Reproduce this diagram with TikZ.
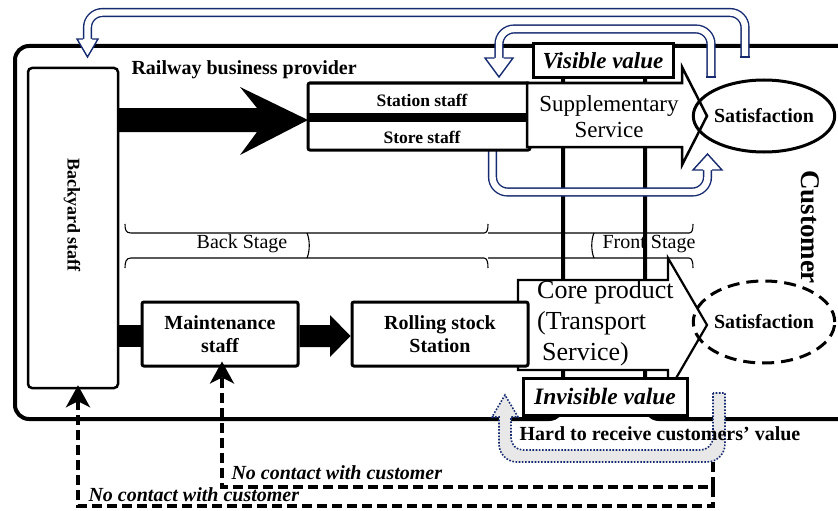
\documentclass[tikz,border=0pt]{standalone}
\usepackage{fontspec}
\setmainfont{Liberation Serif}
\usetikzlibrary{arrows.meta,shapes.geometric}
\definecolor{tubeblue}{RGB}{22,42,112}
\newcommand{\fs}[1]{\fontsize{#1}{#1}\selectfont}
\begin{document}
\begin{tikzpicture}[x=1pt,y=-1pt,
  box/.style={draw, line width=3pt, fill=white, rounded corners=2pt, font=\bfseries\fs{20}, align=center, inner sep=0pt},
  tube/.style={draw=tubeblue, line width=1.4pt, double=white, double distance=6.4pt, rounded corners=15pt},
  tubehead/.style={draw=tubeblue, line width=1.4pt, fill=white, line join=miter},
  tubecap/.style={draw=tubeblue, line width=1.4pt},
  dasharrow/.style={line width=3.4pt, dash pattern=on 10pt off 5pt, -{Stealth[length=22pt,width=24pt,inset=6pt]}},
  brace/.style={line width=1.1pt},
  outer/.style={line width=4pt, rounded corners=14pt},
  solidblack/.style={fill=black, draw=none},
]
\useasboundingbox (0,0) rectangle (838,511);

% braces and stage labels
\draw[brace] (125,224) .. controls (125,230) and (126,233) .. (131,233) -- (484,233) .. controls (487,233) and (488,230) .. (488,224);
\draw[brace] (488,233) -- (689,233) .. controls (692,233) and (693,230) .. (693,224);
\draw[brace] (125,268) .. controls (125,262) and (126,258) .. (131,258) -- (484,258) .. controls (487,258) and (488,262) .. (488,268);
\draw[brace] (488,258) -- (689,258) .. controls (692,258) and (693,262) .. (693,268);
\draw[brace] (307,233) .. controls (310,240) and (310,251) .. (307,258);
\draw[brace] (594,233) .. controls (591,240) and (591,251) .. (594,258);
\node[font=\fs{20}] (backstage) at (242,244) {Back Stage};
\node[font=\fs{20}] (frontstage) at (649,244) {Front Stage};

% outer frames
\draw[outer] (563,46) -- (15,46) -- (15,419) -- (563,419) -- cycle;
\draw[outer] (860,46) -- (645,46) -- (645,419) -- (860,419);

% blue tubes
\coordinate (t1s) at (745,57);
\coordinate (t1e) at (87.5,39);
\draw[tube] (t1s) -- (745,12.5) -- (87.5,12.5) -- (t1e);
\draw[tubecap] (740.3,57) -- (749.7,57);
\draw[tubehead] (83,39) -- (77,39) -- (87.5,57) -- (98,39) -- (92,39);

\coordinate (t2s) at (711,77);
\coordinate (t2e) at (499,58);
\draw[tube] (t2s) -- (711,29) -- (499,29) -- (t2e);
\draw[tubecap] (706.3,77) -- (715.7,77);
\draw[tubehead] (494.5,58) -- (485,58) -- (499,77) -- (513,58) -- (503.5,58);

\coordinate (t3s) at (492.5,148);
\coordinate (t3e) at (707.5,170);
\draw[tube] (t3s) -- (492.5,192) -- (707.5,192) -- (t3e);
\draw[tubehead] (703,170) -- (693,170) -- (707.5,154) -- (722,170) -- (712,170);

% big black arrow
\node[draw, line width=2.5pt, rounded corners=4pt, minimum width=90pt, minimum height=320pt, inner sep=0pt] (backyard) at (73,228) {};
\fill[solidblack] (118,108) -- (257,108) -- (240,87) -- (308,120) -- (240,155) -- (257,132) -- (118,132) -- cycle;

% station / store
\node[box, minimum width=222pt, minimum height=67pt] (ss) at (419,116.5) {};
\draw[line width=9pt] (ss.west |- 0,117.5) -- (530,117.5);
\node[font=\bfseries\fs{17.5}] (station) at (422,100) {Station staff};
\node[font=\bfseries\fs{17.5}] (store) at (422,137) {Store staff};

% supplementary arrow
\draw[line width=2.5pt, fill=white, line join=miter] (527,83) -- (682,83) -- (682,67) -- (707,116) -- (682,165) -- (682,147) -- (527,147) -- cycle;
\node[font=\fontsize{23}{26}\selectfont, align=center] (supp) at (609,117) {Supplementary\\Service};
\node[box, rounded corners=0pt, minimum width=140pt, minimum height=34pt, font=\bfseries\itshape\fs{23}] (visible) at (603,61) {Visible value};
\node[ellipse, draw, line width=3pt, minimum width=134pt, minimum height=72pt, inner sep=0pt, font=\bfseries\fs{20}] (sat1) at (764,116) {Satisfaction};

% core product arrow
\draw[line width=2.2pt, fill=white, line join=miter] (518,280) -- (668,280) -- (668,258) -- (707,325) -- (668,392) -- (668,370) -- (518,370) -- cycle;
\node[font=\fontsize{26}{31}\selectfont, align=left, anchor=west, inner sep=0pt] (core) at (537,323) {Core product\\(Transport\\\hspace*{5pt}Service)};
\node[ellipse, draw, line width=3pt, dash pattern=on 12pt off 7pt, minimum width=124pt, minimum height=82pt, inner sep=0pt, font=\bfseries\fs{20}] (sat2) at (764,322) {Satisfaction};

% lower chain
\node[box, minimum width=156pt, minimum height=64pt] (maint) at (220,334) {Maintenance\\[3pt]staff};
\node[box, minimum width=176pt, minimum height=64pt] (rolling) at (440,334) {Rolling stock\\[3pt]Station};
\fill[solidblack] (backyard.east |- 0,325) rectangle (maint.west |- 0,347);
\fill[solidblack] (maint.east |- 0,325) -- (330,325) -- (330,315) -- (rolling.west |- 0,336) -- (330,357) -- (330,347) -- (maint.east |- 0,347) -- cycle;

\node[box, rounded corners=0pt, minimum width=164pt, minimum height=37pt, font=\bfseries\itshape\fs{23.5}] (invisible) at (605,396.5) {Invisible value};

% dotted tube
\draw[draw=tubeblue, line width=1.6pt, dash pattern=on 1.6pt off 1.6pt, fill=gray!18, line join=miter]
 (713,393) -- (713,438) .. controls (713,444.6) and (706.4,450) .. (701,450) -- (523,450) .. controls (516.4,450) and (511,444.6) .. (511,438) -- (511,417) -- (518,417) -- (505,395) -- (492,417) -- (499,417) -- (499,444) .. controls (499,453.9) and (507.1,462) .. (517,462) -- (707,462) .. controls (716.9,462) and (725,453.9) .. (725,444) -- (725,393) -- cycle;
\coordinate (hardpt) at (713,462);
\node[font=\bfseries\fs{20}] (hard) at (660,434) {Hard to receive customers’ value};

% dashed arrows
\draw[dasharrow] (hardpt) -- (713,487) -- (222,487) -- ([yshift=6pt]maint.south -| 222,0);
\draw[dasharrow] (713,487) -- (713,506) -- (78,506) -- ([yshift=4pt]backyard.south -| 78,0);
\node[font=\bfseries\itshape\fs{20}, anchor=west] (nc1) at (228,473) {No contact with customer};
\node[font=\bfseries\itshape\fs{20}, anchor=west] (nc2) at (85,495) {No contact with customer};

% labels
\node[font=\bfseries\fs{20}, anchor=west] (railway) at (128,70) {Railway business provider};
\node[font=\bfseries\fs{18}, rotate=-90] (backlabel) at (72,215) {Backyard staff};
\node[font=\bfseries\fs{27}, rotate=-90] (customer) at (810,227) {Customer};
\end{tikzpicture}
\end{document}
